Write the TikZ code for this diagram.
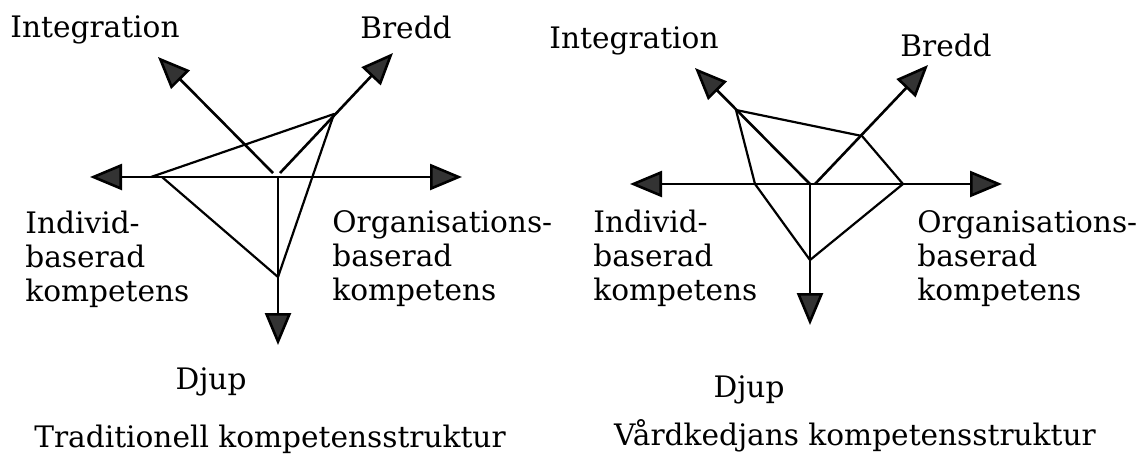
\documentclass[tikz,border=0pt]{standalone}
\usepackage{fontspec}
\setmainfont{DejaVu Serif}
\usetikzlibrary{arrows.meta}

\tikzset{
  axis/.style={line width=1.3pt, -{Triangle[length=16pt,width=13pt,fill=black!80]}},
  twoway/.style={line width=1.3pt, {Triangle[length=16pt,width=13pt,fill=black!80]}-{Triangle[length=16pt,width=13pt,fill=black!80]}},
  web/.style={line width=1.1pt, line join=round},
  lbl/.style={inner sep=0pt, font=\fontsize{14.8}{17}\selectfont},
  multi/.style={lbl, align=left, anchor=north west}
}

\begin{document}
\begin{tikzpicture}[x=0.5pt, y=-0.5pt]
	\useasboundingbox (0,0) rectangle (1137,456);

	%left structure: axes
	\coordinate (li0) at (273,173);
	\coordinate (lb0) at (280,173);
	\coordinate (lc) at (278,177);
	\coordinate (liend) at (158,57);
	\coordinate (lbend) at (393,53);
	\coordinate (lwest) at (90,177);
	\coordinate (least) at (462,177);
	\coordinate (lsouth) at (278,345);
	\draw[axis] (li0) -- (liend);
	\draw[axis] (lb0) -- (lbend);
	\draw[twoway] (lwest) -- (least);
	\draw[axis] (lc) -- (lsouth);

	%left structure: profile
	\coordinate (la) at (151,177);
	\coordinate (la2) at (162,177);
	\coordinate (lb) at (334,114);
	\coordinate (ld) at (278,277);
	\draw[web] (la) -- (lb) -- (ld) -- (la2);

	%left labels
	\node[lbl, anchor=base] (lint) at (95,37) {Integration};
	\node[lbl, anchor=base] (lbre) at (406,38) {Bredd};
	\node[multi] (lind) at (25,211) {Individ-\\baserad\\kompetens};
	\node[multi] (lorg) at (332,210) {Organisations-\\baserad\\kompetens};
	\node[lbl, anchor=base] (ldju) at (211,389) {Djup};
	\node[lbl, anchor=base] (ltit) at (270,447) {Traditionell kompetensstruktur};

	%right structure: axes
	\coordinate (rc) at (810,184);
	\coordinate (rb0) at (815,184);
	\coordinate (riend) at (695,68);
	\coordinate (rbend) at (928,65);
	\coordinate (rwest) at (630,184);
	\coordinate (reast) at (1002,184);
	\coordinate (rsouth) at (810,325);
	\draw[axis] (rc) -- (riend);
	\draw[axis] (rb0) -- (rbend);
	\draw[twoway] (rwest) -- (reast);
	\draw[axis] (rc) -- (rsouth);

	%right structure: profile
	\coordinate (rp1) at (736,110);
	\coordinate (rp2) at (862,136);
	\coordinate (rp3) at (903,184);
	\coordinate (rp4) at (810,260);
	\coordinate (rp5) at (755,184);
	\draw[web] (rp1) -- (rp2) -- (rp3) -- (rp4) -- (rp5) -- cycle;

	%right labels
	\node[lbl, anchor=base] (rint) at (634,48) {Integration};
	\node[lbl, anchor=base] (rbre) at (946,56) {Bredd};
	\node[multi] (rind) at (593,210) {Individ-\\baserad\\kompetens};
	\node[multi] (rorg) at (917,210) {Organisations-\\baserad\\kompetens};
	\node[lbl, anchor=base] (rdju) at (749,397) {Djup};
	\node[lbl, anchor=base] (rtit) at (855,445) {Vårdkedjans kompetensstruktur};
\end{tikzpicture}
\end{document}
